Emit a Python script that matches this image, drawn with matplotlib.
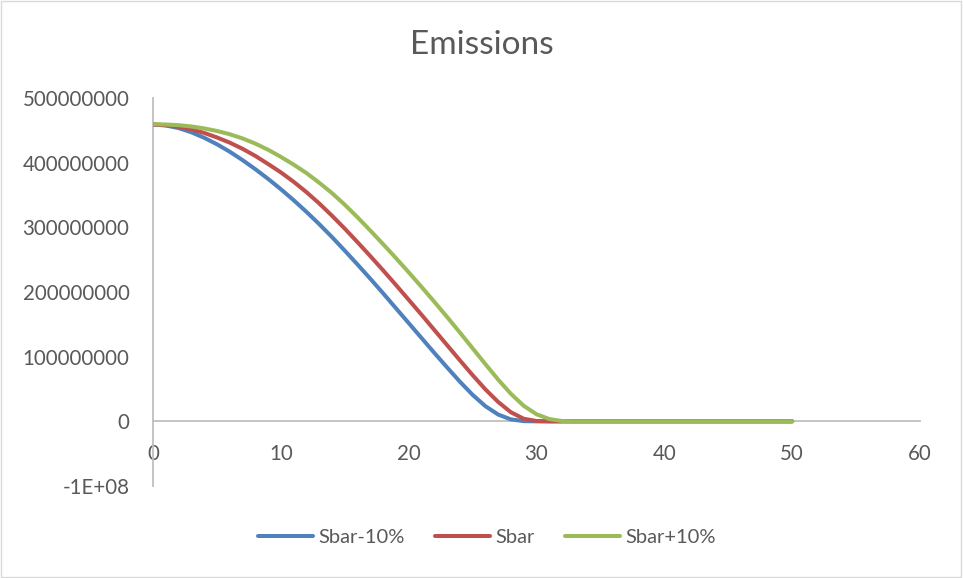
import matplotlib
matplotlib.use("Agg")
import matplotlib.pyplot as plt
from matplotlib.patches import Rectangle
from matplotlib.ticker import FixedLocator, FixedFormatter

years = list(range(0, 51))

# values in units of 1e8
sbar_minus = [4.59, 4.575, 4.535, 4.47, 4.385, 4.285, 4.17, 4.04, 3.90, 3.75,
              3.59, 3.42, 3.24, 3.05, 2.85, 2.64, 2.425, 2.205, 1.98, 1.75,
              1.52, 1.29, 1.06, 0.835, 0.615, 0.41, 0.235, 0.105, 0.03, 0.003,
              0.0] + [0.0] * 20
sbar = [4.59, 4.58, 4.555, 4.515, 4.46, 4.39, 4.31, 4.215, 4.105, 3.98,
        3.85, 3.705, 3.545, 3.37, 3.18, 2.98, 2.77, 2.555, 2.335, 2.11,
        1.88, 1.65, 1.415, 1.18, 0.945, 0.715, 0.495, 0.30, 0.14, 0.04,
        0.005] + [0.0] * 20
sbar_plus = [4.595, 4.59, 4.58, 4.56, 4.53, 4.49, 4.44, 4.375, 4.295, 4.20,
             4.09, 3.97, 3.84, 3.69, 3.53, 3.35, 3.155, 2.95, 2.74, 2.525,
             2.305, 2.08, 1.85, 1.615, 1.375, 1.13, 0.885, 0.645, 0.425, 0.24,
             0.11, 0.035, 0.005] + [0.0] * 18

series_names = ["Sbar-10%", "Sbar", "Sbar+10%"]
series_colors = ["#4F81BD", "#C0504D", "#9BBB59"]
y_ticks = [-100000000, 0, 100000000, 200000000, 300000000, 400000000, 500000000]
y_tick_labels = ["-1E+08", "0", "100000000", "200000000", "300000000", "400000000", "500000000"]
x_ticks = [0, 10, 20, 30, 40, 50, 60]

plt.rcParams['font.family'] = ['Lato', 'DejaVu Sans']
text_color = "#595959"
axis_color = "#BFBFBF"

fig = plt.figure(figsize=(9.63, 5.78), dpi=100)
fig.patches.append(Rectangle((0.001, 0.002), 0.997, 0.996, transform=fig.transFigure,
                             fill=False, edgecolor="#D9D9D9", linewidth=1.0))

ax = fig.add_axes([153 / 963, 1 - 486 / 578, 767 / 963, 388 / 578])

for vals, name, col in zip([sbar_minus, sbar, sbar_plus], series_names, series_colors):
    ax.plot(years, [v * 1e8 for v in vals], color=col, linewidth=2.9, label=name,
            solid_capstyle="round", solid_joinstyle="round", zorder=3)

ax.set_xlim(0, 60)
ax.set_ylim(-100000000, 500000000)
ax.yaxis.set_major_locator(FixedLocator(y_ticks))
ax.yaxis.set_major_formatter(FixedFormatter(y_tick_labels))
ax.xaxis.set_major_locator(FixedLocator(x_ticks))
ax.set_xticklabels([str(v) for v in x_ticks])

for s in ["top", "right"]:
    ax.spines[s].set_visible(False)
ax.spines["bottom"].set_position(("data", 0))
ax.spines["bottom"].set_color(axis_color)
ax.spines["bottom"].set_linewidth(1.3)
ax.spines["left"].set_color(axis_color)
ax.spines["left"].set_linewidth(1.3)

ax.tick_params(axis="both", length=0, labelsize=14.8, colors=text_color)
ax.tick_params(axis="x", pad=16.5)
ax.tick_params(axis="y", pad=17)

fig.text(0.5, 1 - 45 / 578, "Emissions", ha="center", va="center",
         fontsize=24, color=text_color)

fig.legend(loc="center", bbox_to_anchor=(0.506, 1 - 537 / 578), ncol=3,
           frameon=False, fontsize=14.5, labelcolor=text_color,
           handlelength=2.7, handletextpad=0.3, columnspacing=1.5)

fig.savefig("out.png", dpi=100)
